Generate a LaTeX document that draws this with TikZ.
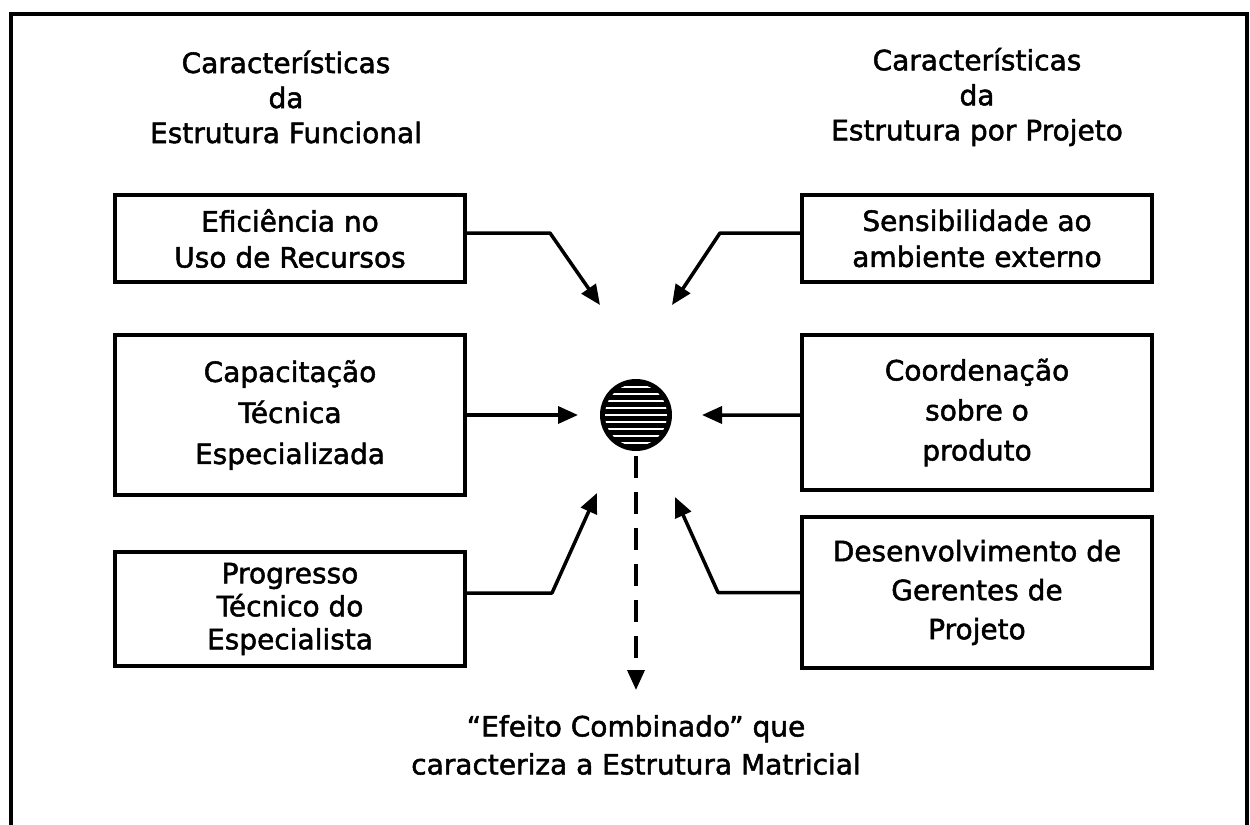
\documentclass[tikz,border=0pt]{standalone}
\usepackage{fontspec}
\setmainfont[FakeBold=1.8]{DejaVu Sans}
\usetikzlibrary{arrows.meta,calc}
\newcommand{\fs}[1]{\fontsize{28bp}{#1bp}\selectfont}
\begin{document}
\begin{tikzpicture}[x=1bp,y=-1bp,
  txt/.style={font=\fs{36}, align=center, inner sep=0pt},
  box/.style={txt, draw, line width=3.5bp, minimum width=350bp},
  conn/.style={line width=3.5bp, line join=round, -{Triangle[width=17bp,length=20bp]}},
]
\useasboundingbox (0,0) rectangle (1250,825);
% frame
\draw[line width=4.5bp, line join=miter] (11,825) -- (11,14) -- (1247,14) -- (1247,825);

% headers
\node[txt, font=\fs{35}] (hl) at (286,97) {Características\\da\\Estrutura Funcional};
\node[txt, font=\fs{35}] (hr) at (977,97) {Características\\da\\Estrutura por Projeto};

% boxes
\node[box, minimum height=87bp]  (b1) at (290,238.5) {Eficiência no\\Uso de Recursos};
\node[box, minimum height=160bp, font=\fs{41}] (b2) at (290,415)   {Capacitação\\Técnica\\Especializada};
\node[box, minimum height=114bp, font=\fs{33}] (b3) at (290,609) {Progresso\\Técnico do\\Especialista};
\node[box, minimum height=87bp]  (b4) at (977,238.5) {Sensibilidade ao\\ambiente externo};
\node[box, minimum height=155bp, font=\fs{40}] (b5) at (977,412.5) {Coordenação\\sobre o\\produto};
\node[box, minimum height=151bp, font=\fs{39}] (b6) at (977,592.5) {Desenvolvimento de\\Gerentes de\\Projeto};

% centre circle
\node[circle, fill=black, minimum size=72bp, inner sep=0pt] (c) at (636,415) {};
\begin{scope}
  \clip (636,415) circle (31bp);
  \foreach \d in {-28,-21,...,28}
    \draw[white, line width=2.4bp] (598,{415+\d}) -- (674,{415+\d});
\end{scope}

% arrow tips
\coordinate (t1) at (600,305);
\coordinate (t2) at (578,415);
\coordinate (t3) at (597,493);
\coordinate (t4) at (672,305);
\coordinate (t5) at (702,415);
\coordinate (t6) at (675,497);
\coordinate (td) at (636,690);

% connectors
\draw[conn] ([yshift=5.5bp]b1.east) -- (550,233) -- (t1);
\draw[conn] (b2.east) -- (t2);
\draw[conn] ([yshift=16bp]b3.east) -- (552,593) -- (t3);
\draw[conn] ([yshift=5.5bp]b4.west) -- (720,233) -- (t4);
\draw[conn] ([yshift=-2.5bp]b5.west) -- (t5);
\draw[conn] (b6.west) -- (718,592.5) -- (t6);
\draw[conn, dash pattern=on 22bp off 14bp] ([yshift=-5bp]c.south) -- (td);

% bottom text
\node[txt, font=\fs{38}] (res) at (636,745) {“Efeito Combinado” que\\caracteriza a Estrutura Matricial};
\end{tikzpicture}
\end{document}
